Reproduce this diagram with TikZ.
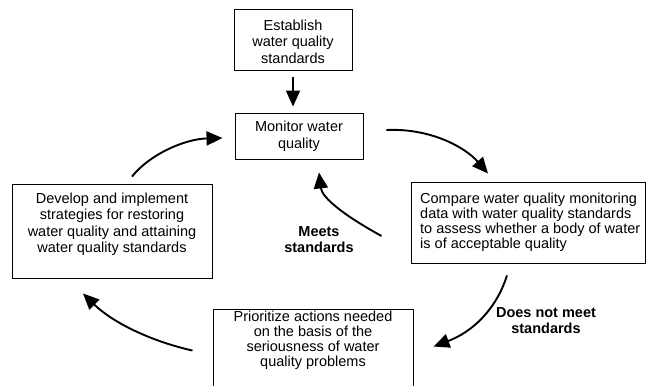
\documentclass[tikz,border=0pt]{standalone}
\usepackage{fontspec}
\setmainfont{Liberation Sans}
\usetikzlibrary{arrows.meta,calc}
\tikzset{
  box/.style={draw=black, line width=0.9pt, inner sep=0pt},
  txt/.style={inner sep=0pt, align=center, font=\fontsize{14.5}{16.5}\selectfont},
  txttight/.style={inner sep=0pt, align=center, font=\fontsize{14.5}{15}\selectfont},
  lbl/.style={inner sep=0pt, align=center, font=\fontsize{14.5}{16}\selectfont\bfseries},
  arr/.style={line width=1.9pt, -{Triangle[length=16pt,width=14pt]}}
}
\begin{document}
\begin{tikzpicture}[x=1pt,y=-1pt]
\useasboundingbox (0,0) rectangle (647,385);
\fill[white] (0,0) rectangle (647,385);
\clip (0,0) rectangle (647,385);

% boxes
\node[box, minimum width=118pt, minimum height=61pt] (est) at (293,39.5) {};
\node[txt] (estt) at (293,41.5) {Establish\\water quality\\standards};

\node[box, minimum width=128pt, minimum height=46pt] (mon) at (299,136) {};
\node[txt] (mont) at (299,136.5) {Monitor water\\quality};

\node[box, minimum width=200pt, minimum height=94pt] (dev) at (112,231) {};
\node[txt] (devt) at (112,224) {Develop and implement\\strategies for restoring\\water quality and attaining\\water quality standards};

\node[box, minimum width=234pt, minimum height=81pt] (cmp) at (528,222.5) {};
\node[txttight, align=left, anchor=west] (cmpt) at (420,222.5) {Compare water quality monitoring\\data with water quality standards\\to assess whether a body of water\\is of acceptable quality};

\node[box, minimum width=200pt, minimum height=90pt] (pri) at (313,354) {};
\node[txttight] (prit) at (313,340) {Prioritize actions needed\\on the basis of the\\seriousness of water\\quality problems};

% labels
\node[lbl] (meets) at (319,239.5) {Meets\\standards};
\node[lbl] (dnm) at (546,321) {Does not meet\\standards};

% connectors
\draw[arr] ([yshift=-7pt]est.south) -- ([yshift=6pt]est.south |- mon.north);
\draw[arr] ([shift={(23,-6)}]mon.east) .. controls (430,128) and (465,147) .. ([shift={(-40,-8)}]cmp.north);
\draw[arr] ([shift={(-21,12)}]cmp.south) .. controls (496,310) and (472,332) .. ([shift={(20,38)}]pri.north east);
\draw[arr] ([shift={(-20,42)}]pri.north west) .. controls (150,341) and (112,322) .. ([shift={(-29,15)}]dev.south);
\draw[arr] ([shift={(20,-7)}]dev.north) .. controls (150,154) and (185,139) .. ([shift={(-12,2)}]mon.west);
\draw[arr] ([shift={(-29,13.5)}]cmp.west) .. controls (345,216) and (322,198) .. ([shift={(20,13)}]mon.south);
\end{tikzpicture}
\end{document}
